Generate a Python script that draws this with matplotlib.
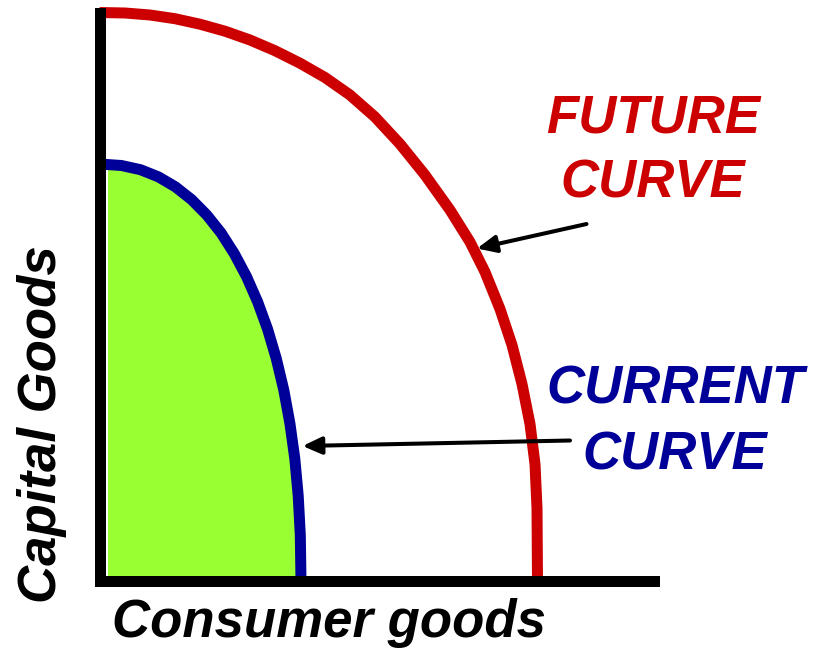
import matplotlib
matplotlib.use("Agg")
import matplotlib.pyplot as plt

# ---- data (1 unit = 10 px) ----
future_x = [0.0, 2.55, 5.05, 7.55, 10.05, 12.55, 15.05, 17.55, 20.05, 22.55, 25.05,
            27.55, 30.05, 32.55, 35.05, 37.05, 38.55, 40.05, 41.25, 42.25, 43.05,
            43.55, 43.75, 43.8]
future_y = [56.8, 56.75, 56.55, 56.18, 55.63, 54.93, 54.05, 52.98, 51.73, 50.3, 48.55,
            46.35, 43.65, 40.55, 37.05, 33.85, 30.85, 27.15, 23.55, 19.65, 15.65,
            11.65, 7.25, 0.0]

current_x = [0.0, 2.19, 4.10, 5.90, 7.60, 9.21, 10.73, 12.16, 13.48, 14.70,
             15.81, 16.81, 17.68, 18.43, 19.04, 19.53, 19.87, 20.08, 20.15]
current_y = [41.65, 41.50, 41.08, 40.36, 39.36, 38.09, 36.55, 34.75, 32.68, 30.39,
             27.87, 25.13, 22.18, 19.04, 15.71, 12.19, 8.48, 4.54, 0.0]

x_label = "Consumer goods"
y_label = "Capital Goods"
future_label = "FUTURE\nCURVE"
current_label = "CURRENT\nCURVE"

RED = "#CC0000"
BLUE = "#000099"
GREEN = "#99FF33"

W, H = 823, 656
fig = plt.figure(figsize=(W / 100, H / 100), dpi=100)

def fx(px):
    return px / W

def fy(py):
    return 1 - py / H

ax_l, ax_r, ax_t, ax_b = 99.5, 654.5, 12.5, 580.5
ax = fig.add_axes([fx(ax_l), fy(ax_b), (ax_r - ax_l) / W, (ax_b - ax_t) / H])
ax.set_xlim(0, (ax_r - ax_l) / 10)
ax.set_ylim(0, (ax_b - ax_t) / 10)
ax.set_xticks([])
ax.set_yticks([])
for s in ["top", "right"]:
    ax.spines[s].set_visible(False)
lw_px = 11
lw = lw_px * 72 / 100
for s in ["left", "bottom"]:
    ax.spines[s].set_linewidth(lw)
    ax.spines[s].set_color("black")
    ax.spines[s].set_capstyle("projecting")
    ax.spines[s].set_zorder(5)

ax.fill_between(current_x, 0, current_y, color=GREEN, lw=0, zorder=1)
ax.axvspan(0, 0.85, color="white", lw=0, zorder=1.5)

ax.plot(future_x, future_y, color=RED, lw=lw, solid_capstyle="butt",
        solid_joinstyle="round", clip_on=False, zorder=3)
ax.plot(current_x, current_y, color=BLUE, lw=lw, solid_capstyle="butt",
        solid_joinstyle="round", clip_on=False, zorder=3)

arrow_props = dict(arrowstyle="-|>,head_length=11.5,head_width=5.2",
                   mutation_scale=1, lw=2.9, color="black",
                   shrinkA=0, shrinkB=0)
ax.annotate("", xy=(37.75, 33.2), xytext=(48.7, 35.65), arrowprops=arrow_props,
            zorder=4)
ax.annotate("", xy=(20.3, 13.45), xytext=(47.05, 14.0), arrowprops=arrow_props,
            zorder=4)

font = dict(family="Liberation Sans", weight="bold", style="italic")
fig.text(fx(653), fy(198), future_label, color=RED, fontsize=38, ha="center",
         va="baseline", linespacing=1.4, **font)
fig.text(fx(675), fy(469), current_label, color=BLUE, fontsize=38, ha="center",
         va="baseline", linespacing=1.4, **font)

fig.text(fx(329), fy(637), x_label, color="black", fontsize=38, ha="center",
         va="baseline", **font)
fig.text(fx(42), fy(424), y_label, color="black", fontsize=38, ha="center",
         va="center", rotation=90, **font)

fig.savefig("out.png", dpi=100)
